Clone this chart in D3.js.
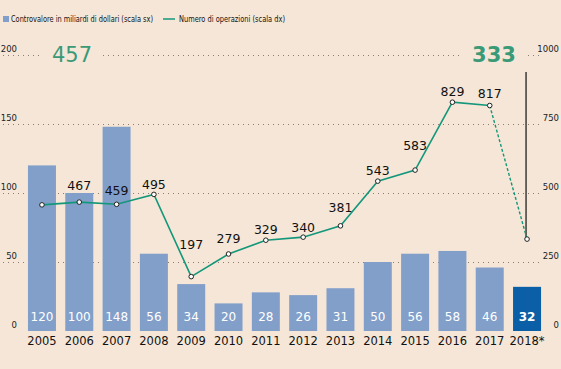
<!DOCTYPE html>
<html>
<head>
<meta charset="utf-8">
<script src="https://cdn.jsdelivr.net/npm/d3@7"></script>
<style>
  html, body { margin: 0; padding: 0; background: #f5e6d7; }
  svg { display: block; font-family: "DejaVu Sans", sans-serif; }
</style>
</head>
<body>
<svg id="chart" width="561" height="369"></svg>
<script>
const years = ["2005","2006","2007","2008","2009","2010","2011","2012","2013","2014","2015","2016","2017","2018*"];
const controvalore = [120, 100, 148, 56, 34, 20, 28, 26, 31, 50, 56, 58, 46, 32];
const operazioni = [457, 467, 459, 495, 197, 279, 329, 340, 381, 543, 583, 829, 817, 333];
const leftTicks = [0, 50, 100, 150, 200];
const rightTicks = [0, 250, 500, 750, 1000];

// vertical nudges for the point labels (the first and last get the big numbers)
const labelDy = [0, -12, -9, -5, -28, -11, -6, -5, -14, -6, -20, -6, -8, 0];

const width = 561;
const height = 369;
const barColor = "#829fca";
const lastColor = "#0b5fa6";
const green = "#13977a";

const svg = d3.select("#chart");

const x = d3.scaleBand()
    .domain(years)
    .range([23.3, 545.7])
    .paddingInner(0.25)
    .paddingOuter(0.125);

const yL = d3.scaleLinear().domain([0, 200]).range([331, 55]);
const yR = d3.scaleLinear().domain([0, 1000]).range([331, 55]);

// gridlines
svg.append("g")
    .selectAll("line")
    .data(leftTicks.slice(1))
    .enter()
    .append("line")
    .attr("x1", 3)
    .attr("x2", 541)
    .attr("y1", d => yL(d) + 0.5)
    .attr("y2", d => yL(d) + 0.5)
    .attr("stroke", "#8c7f72")
    .attr("stroke-width", 1)
    .attr("stroke-dasharray", "1,4");

// left axis labels
svg.append("g")
    .selectAll("text")
    .data(leftTicks)
    .enter()
    .append("text")
    .attr("x", 17)
    .attr("y", d => yL(d) - 3)
    .attr("text-anchor", "end")
    .style("font-size", "8.5px")
    .attr("fill", "#222")
    .text(d => d);

// right axis labels
svg.append("g")
    .selectAll("text")
    .data(rightTicks)
    .enter()
    .append("text")
    .attr("x", 559)
    .attr("y", d => yR(d) - 3)
    .attr("text-anchor", "end")
    .style("font-size", "8.5px")
    .attr("fill", "#222")
    .text(d => d);

// bars
svg.append("g")
    .selectAll("rect")
    .data(controvalore)
    .enter()
    .append("rect")
    .attr("x", (d, i) => x(years[i]))
    .attr("y", d => yL(d))
    .attr("width", x.bandwidth())
    .attr("height", d => yL(0) - yL(d))
    .attr("fill", (d, i) => i === years.length - 1 ? lastColor : barColor);

// values inside bars
svg.append("g")
    .selectAll("text")
    .data(controvalore)
    .enter()
    .append("text")
    .attr("x", (d, i) => x(years[i]) + x.bandwidth() / 2)
    .attr("y", 321)
    .attr("text-anchor", "middle")
    .attr("fill", "#fff")
    .style("font-size", "12px")
    .style("font-weight", (d, i) => i === years.length - 1 ? "bold" : "normal")
    .text(d => d);

// year labels
svg.append("g")
    .selectAll("text")
    .data(years)
    .enter()
    .append("text")
    .attr("x", d => x(d) + x.bandwidth() / 2)
    .attr("y", 345)
    .attr("text-anchor", "middle")
    .attr("fill", "#111")
    .style("font-size", "11.5px")
    .text(d => d);

const cx = i => x(years[i]) + x.bandwidth() / 2;
const last = years.length - 1;

// vertical marker to the last point
svg.append("line")
    .attr("x1", cx(last) - 1)
    .attr("x2", cx(last) - 1)
    .attr("y1", 72)
    .attr("y2", yR(operazioni[last]))
    .attr("stroke", "#111")
    .attr("stroke-width", 1.2);

// line: solid up to 2017, dashed to 2018
const line = d3.line()
    .x(d => cx(d.i))
    .y(d => yR(d.v));

const pts = operazioni.map((v, i) => ({ v, i }));

svg.append("path")
    .attr("d", line(pts.slice(0, last)))
    .attr("fill", "none")
    .attr("stroke", green)
    .attr("stroke-width", 1.6);

svg.append("path")
    .attr("d", line(pts.slice(last - 1)))
    .attr("fill", "none")
    .attr("stroke", green)
    .attr("stroke-width", 1.4)
    .attr("stroke-dasharray", "3,2");

svg.append("g")
    .selectAll("circle")
    .data(pts)
    .enter()
    .append("circle")
    .attr("cx", d => cx(d.i))
    .attr("cy", d => yR(d.v))
    .attr("r", 2.3)
    .attr("fill", "#fff")
    .attr("stroke", "#222")
    .attr("stroke-width", 1);

// point labels
svg.append("g")
    .selectAll("text")
    .data(pts.slice(1, last))
    .enter()
    .append("text")
    .attr("x", d => cx(d.i))
    .attr("y", d => yR(d.v) + labelDy[d.i])
    .attr("text-anchor", "middle")
    .attr("fill", "#111")
    .style("font-size", "12.5px")
    .text(d => d.v);

// big first / last values
const big = [
    { v: operazioni[0], x: 72, w: 62, weight: "normal" },
    { v: operazioni[last], x: 494, w: 62, weight: "bold" }
];
svg.append("g")
    .selectAll("rect")
    .data(big)
    .enter()
    .append("rect")
    .attr("x", d => d.x - d.w / 2)
    .attr("y", 45)
    .attr("width", d => d.w)
    .attr("height", 20)
    .attr("fill", "#f5e6d7");

svg.append("g")
    .selectAll("text")
    .data(big)
    .enter()
    .append("text")
    .attr("x", d => d.x)
    .attr("y", 62)
    .attr("text-anchor", "middle")
    .attr("fill", "#3a9a78")
    .style("font-size", "21px")
    .style("font-weight", d => d.weight)
    .text(d => d.v);

// legend
const legend = svg.append("g").attr("transform", "translate(0,21)");
legend.append("rect")
    .attr("x", 3).attr("y", -5)
    .attr("width", 6).attr("height", 6)
    .attr("fill", barColor);
legend.append("text")
    .attr("x", 11).attr("y", 1)
    .style("font-size", "8.3px")
    .attr("fill", "#111")
    .attr("textLength", 142)
    .attr("lengthAdjust", "spacingAndGlyphs")
    .text("Controvalore in miliardi di dollari (scala sx)");
legend.append("line")
    .attr("x1", 163).attr("x2", 175)
    .attr("y1", -2).attr("y2", -2)
    .attr("stroke", green)
    .attr("stroke-width", 1.5);
legend.append("text")
    .attr("x", 179).attr("y", 1)
    .style("font-size", "8.3px")
    .attr("fill", "#111")
    .attr("textLength", 106)
    .attr("lengthAdjust", "spacingAndGlyphs")
    .text("Numero di operazioni (scala dx)");
</script>
</body>
</html>
